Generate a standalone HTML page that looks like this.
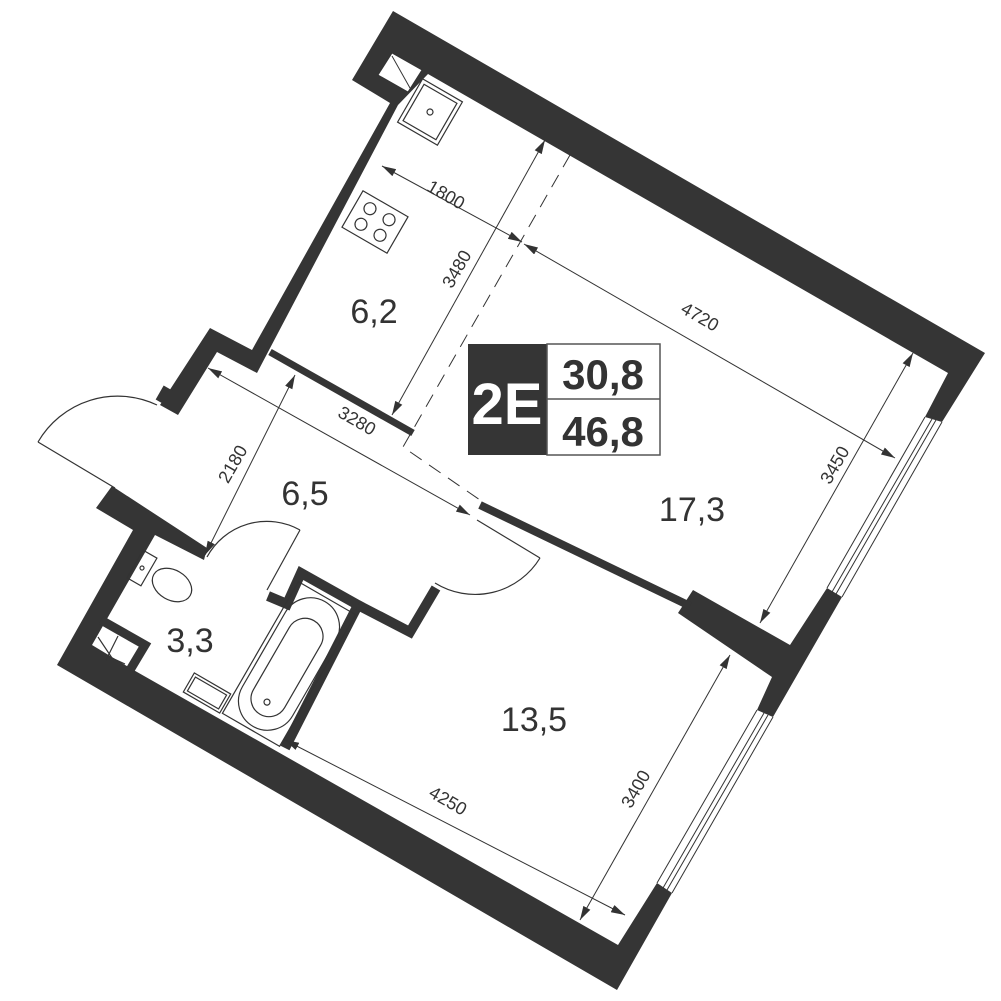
<!DOCTYPE html>
<html><head><meta charset="utf-8"><style>
html,body{margin:0;padding:0;background:#fff}
svg{display:block}
text{font-family:"Liberation Sans",sans-serif;fill:#333}
</style></head><body>
<svg width="1001" height="1001" viewBox="0 0 1001 1001" xmlns="http://www.w3.org/2000/svg">
<defs>
<marker id="a" viewBox="0 0 14 8" refX="14" refY="4" markerWidth="14" markerHeight="8" markerUnits="userSpaceOnUse" orient="auto-start-reverse">
<path d="M0,0 L14,4 L0,8 z" fill="#333"/></marker>
</defs>
<g fill="#353535">
<polygon points="393,11 985,353 942,422 925,417 948,373 428,74 398,105 268,352 257,373 217,352 178,415 160,405 210,328 252,350 390,103 352,80"/>
<polygon points="827,588 842,597 773,717 757,710 772,677 678,613 693,590 790,645"/>
<polygon points="112,486 207,548 204,560 155,535 92,645 130,668 618,945 657,883 672,893 617,990 57,665 133,530 96,508"/>
</g>
<polyline points="101,620 145,645 130,670" fill="none" stroke="#353535" stroke-width="9"/>
<g stroke="#333" stroke-width="1.2" fill="none">
<polyline points="98,637 112,658 125,664"/>
<line x1="118" y1="636" x2="106" y2="660"/>
</g>
<polygon points="378,75 392,53 422,70 408,92" fill="#fff" stroke="#333" stroke-width="1"/>
<line x1="392" y1="56" x2="410" y2="88" stroke="#333" stroke-width="1"/>
<g stroke="#353535" fill="none">
<line x1="270" y1="352" x2="413" y2="433" stroke-width="7"/>
<line x1="480" y1="505" x2="690" y2="606" stroke-width="8"/>
<polyline points="268,596 287,604 301,573 358,605 285,748" stroke-width="10"/>
<polyline points="358,605 410,632 436,588" stroke-width="10"/>
<line x1="160" y1="402" x2="168" y2="388" stroke-width="10"/>
</g>
<g stroke="#333" stroke-width="1" fill="none">
<line x1="942" y1="422" x2="842" y2="597"/><line x1="925" y1="417" x2="827" y2="588"/>
<line x1="936" y1="420" x2="836" y2="594"/><line x1="932" y1="419" x2="832" y2="592"/>
<line x1="773" y1="717" x2="672" y2="893"/><line x1="757" y1="710" x2="657" y2="883"/>
<line x1="768" y1="715" x2="667" y2="890"/><line x1="764" y1="713" x2="663" y2="888"/>
</g>
<g stroke="#333" stroke-width="1.2" fill="none">
<line x1="115" y1="488" x2="38" y2="442"/><path d="M38,442 A92,92 0 0 1 157,405"/>
<line x1="267" y1="590" x2="300" y2="530"/><path d="M300,530 A68,68 0 0 0 207,557"/>
<line x1="477" y1="520" x2="540" y2="558"/><path d="M540,558 A76,76 0 0 1 435,583"/>
</g>
<polyline points="570,155 403,447 480,500" fill="none" stroke="#333" stroke-width="1" stroke-dasharray="14,9"/>
<g stroke="#333" stroke-width="1.2" fill="none">
<g transform="translate(430,112) rotate(30)"><rect x="-23" y="-25" width="46" height="50"/><rect x="-19" y="-21" width="38" height="42"/><circle cx="0" cy="0" r="3"/></g>
<g transform="translate(375,222) rotate(30)"><rect x="-26" y="-21" width="52" height="42"/><circle cx="-11" cy="-9" r="6"/><circle cx="11" cy="-9" r="6"/><circle cx="-11" cy="9" r="6"/><circle cx="11" cy="9" r="6"/></g>
<g transform="translate(142,568) rotate(30)"><rect x="-8" y="-16" width="16" height="32"/><circle cx="0" cy="0" r="2"/></g>
<ellipse cx="172" cy="585" rx="21" ry="15" transform="rotate(30 172 585)"/>
<g transform="translate(207,693) rotate(30)"><rect x="-21" y="-11" width="42" height="22"/><rect x="-18" y="-8" width="36" height="16"/></g>
<g transform="translate(289,664) rotate(30)"><rect x="-33" y="-76" width="66" height="152"/><rect x="-29" y="-72" width="58" height="144" rx="29"/><rect x="-18" y="-50" width="36" height="108" rx="18"/><circle cx="0" cy="44" r="3"/></g>
</g>
<g stroke="#333" stroke-width="1" marker-start="url(#a)" marker-end="url(#a)">
<line x1="382" y1="166" x2="522" y2="242"/>
<line x1="524" y1="244" x2="895" y2="458"/>
<line x1="545" y1="140" x2="392" y2="415"/>
<line x1="913" y1="353" x2="760" y2="623"/>
<line x1="295" y1="375" x2="205" y2="555"/>
<line x1="208" y1="368" x2="470" y2="515"/>
<line x1="285" y1="740" x2="625" y2="915"/>
<line x1="730" y1="655" x2="580" y2="920"/>
</g>
<g font-size="18">
<text transform="translate(443,200) rotate(30)" text-anchor="middle">1800</text>
<text transform="translate(697,322) rotate(30)" text-anchor="middle">4720</text>
<text transform="translate(354,426) rotate(30)" text-anchor="middle">3280</text>
<text transform="translate(445,806) rotate(30)" text-anchor="middle">4250</text>
<text transform="translate(462,272) rotate(-60)" text-anchor="middle">3480</text>
<text transform="translate(840,468) rotate(-60)" text-anchor="middle">3450</text>
<text transform="translate(238,467) rotate(-60)" text-anchor="middle">2180</text>
<text transform="translate(641,792) rotate(-60)" text-anchor="middle">3400</text>
</g>
<g font-size="34" text-anchor="middle">
<text x="374" y="323">6,2</text>
<text x="305" y="505">6,5</text>
<text x="692" y="521">17,3</text>
<text x="534" y="731">13,5</text>
<text x="190" y="652">3,3</text>
</g>
<rect x="468" y="344" width="79" height="111" fill="#353535"/>
<rect x="547" y="344" width="113" height="111" fill="#fff" stroke="#555" stroke-width="1.5"/>
<line x1="547" y1="399" x2="660" y2="399" stroke="#555" stroke-width="1.5"/>
<text x="507" y="424" font-size="58" font-weight="bold" text-anchor="middle" style="fill:#fff">2E</text>
<text x="603" y="389" font-size="42" font-weight="bold" text-anchor="middle">30,8</text>
<text x="603" y="446" font-size="42" font-weight="bold" text-anchor="middle">46,8</text>
</svg>
</body></html>
